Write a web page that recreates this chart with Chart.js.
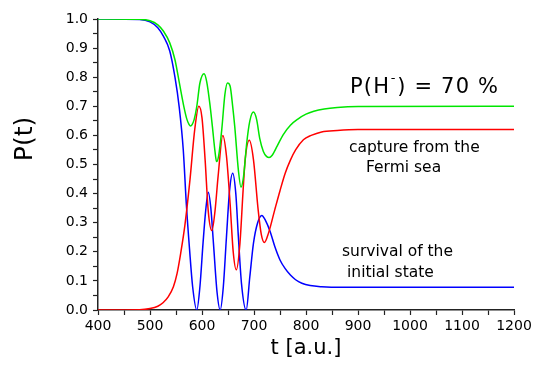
<!DOCTYPE html>
<html>
<head>
<meta charset="utf-8">
<script src="https://cdn.jsdelivr.net/npm/chart.js@4/dist/chart.umd.min.js"></script>
<style>
html,body{margin:0;padding:0;background:#fff;}
#wrap{width:539px;height:365px;position:relative;}
</style>
</head>
<body>
<div id="wrap"><canvas id="c" width="539" height="365"></canvas></div>
<script>
// ---- data ----
const xTicks = [400, 500, 600, 700, 800, 900, 1000, 1100, 1200];
const yTicks = [0.0, 0.1, 0.2, 0.3, 0.4, 0.5, 0.6, 0.7, 0.8, 0.9, 1.0];

const greenT = [400, 480, 500, 515, 526, 538, 548, 557, 565, 571, 575, 578, 581, 585, 590, 596, 604, 609, 615, 620, 625, 628, 632, 638, 644, 649, 654, 659, 663, 670, 675, 680, 686, 692, 699, 705, 711, 718, 724, 729, 735, 745, 756, 770, 785, 800, 815, 835, 860, 900, 1200];
const greenP = [1.0, 0.999, 0.994, 0.98, 0.958, 0.918, 0.86, 0.775, 0.70, 0.655, 0.638, 0.632, 0.637, 0.655, 0.70, 0.78, 0.812, 0.785, 0.71, 0.63, 0.545, 0.51, 0.53, 0.62, 0.74, 0.78, 0.77, 0.70, 0.63, 0.48, 0.422, 0.46, 0.574, 0.65, 0.68, 0.655, 0.59, 0.545, 0.528, 0.524, 0.532, 0.565, 0.602, 0.635, 0.657, 0.673, 0.683, 0.691, 0.696, 0.699, 0.70];

const redT = [400, 480, 500, 515, 525, 535, 545, 552, 559, 567, 577, 586, 594, 600, 606, 612, 619, 625, 631, 640, 647, 654, 660, 666, 673, 679, 683, 691, 699, 708, 714, 720, 728, 740, 750, 760, 770, 780, 795, 810, 830, 860, 900, 1200];
const redP = [0.0, 0.001, 0.005, 0.013, 0.025, 0.045, 0.08, 0.125, 0.195, 0.29, 0.45, 0.62, 0.70, 0.66, 0.516, 0.34, 0.273, 0.34, 0.46, 0.60, 0.53, 0.367, 0.20, 0.138, 0.23, 0.41, 0.516, 0.583, 0.516, 0.344, 0.26, 0.232, 0.265, 0.345, 0.41, 0.47, 0.515, 0.55, 0.585, 0.60, 0.612, 0.617, 0.62, 0.62];

const blueT = [400, 480, 500, 515, 526, 538, 548, 556, 564, 570, 576, 582, 590, 596, 602, 607, 612, 617, 622, 629, 635, 641, 647, 653, 659, 665, 670, 676, 685, 692, 699, 707, 715, 722, 731, 740, 750, 760, 770, 780, 792, 808, 830, 870, 1200];
const blueP = [1.0, 0.998, 0.99, 0.97, 0.94, 0.89, 0.80, 0.70, 0.55, 0.36, 0.21, 0.08, 0.0, 0.08, 0.23, 0.34, 0.405, 0.35, 0.23, 0.06, 0.0, 0.08, 0.25, 0.41, 0.47, 0.40, 0.25, 0.09, 0.0, 0.115, 0.23, 0.30, 0.325, 0.308, 0.27, 0.218, 0.172, 0.142, 0.12, 0.104, 0.092, 0.084, 0.08, 0.078, 0.078];

const seriesLabels = ['total', 'capture from the Fermi sea', 'survival of the initial state'];

function pts(ts, ps) { return ts.map((t, i) => ({x: t, y: ps[i]})); }

const AXIS = '#222';
const TICKFONT = {family: 'DejaVu Sans', size: 14};

const annotations = {
  id: 'annotations',
  afterDraw(chart) {
    const ctx = chart.ctx;
    ctx.save();
    ctx.fillStyle = '#000';
    ctx.textAlign = 'left';
    ctx.textBaseline = 'alphabetic';
    // P(H-) = 70 %
    ctx.letterSpacing = '1.2px';
    ctx.font = '21px "DejaVu Sans"';
    let x = 350;
    ctx.fillText('P(H', x, 93);
    x += ctx.measureText('P(H').width;
    ctx.font = '13px "DejaVu Sans"';
    ctx.fillText('-', x + 0.5, 82);
    x += ctx.measureText('-').width + 1;
    ctx.font = '21px "DejaVu Sans"';
    ctx.fillText(') = 70 %', x, 93);
    ctx.letterSpacing = '0px';
    // labels
    ctx.font = '15.5px "DejaVu Sans"';
    ctx.fillText('capture from the', 349, 152);
    ctx.fillText('Fermi sea', 366, 172);
    ctx.fillText('survival of the', 342, 256);
    ctx.fillText('initial state', 347, 277);
    // y axis title
    ctx.save();
    ctx.translate(25, 139);
    ctx.rotate(-Math.PI / 2);
    ctx.textAlign = 'center';
    ctx.textBaseline = 'middle';
    ctx.font = '25px "DejaVu Sans"';
    ctx.fillText('P(t)', 0, 0);
    ctx.restore();
    ctx.restore();
  }
};

new Chart(document.getElementById('c'), {
  type: 'line',
  data: {
    datasets: [
      {label: seriesLabels[0], data: pts(greenT, greenP), borderColor: '#00e600', borderWidth: 1.5},
      {label: seriesLabels[1], data: pts(redT, redP), borderColor: '#ff0000', borderWidth: 1.5},
      {label: seriesLabels[2], data: pts(blueT, blueP), borderColor: '#0000ff', borderWidth: 1.5}
    ]
  },
  options: {
    responsive: false,
    animation: false,
    devicePixelRatio: 1,
    layout: {padding: {left: 0, top: 19, right: 25, bottom: 0}},
    elements: {point: {radius: 0}, line: {cubicInterpolationMode: 'monotone', fill: false}},
    plugins: {legend: {display: false}, tooltip: {enabled: false}},
    scales: {
      x: {
        type: 'linear', min: xTicks[0], max: xTicks[xTicks.length - 1],
        afterFit: (s) => { s.height = 55; },
        border: {display: true, color: AXIS, width: 1.5},
        grid: {display: true, drawOnChartArea: false, drawTicks: true, tickLength: 5, tickColor: AXIS, tickWidth: 1.2},
        ticks: {
          stepSize: 50, autoSkip: false, maxRotation: 0, color: '#000', font: TICKFONT, padding: 3,
          callback: (v) => xTicks.includes(v) ? String(v) : ''
        },
        title: {display: true, text: 't [a.u.]', color: '#000', font: {family: 'DejaVu Sans', size: 21}, padding: {top: 0, bottom: 4}}
      },
      y: {
        type: 'linear', min: 0, max: 1,
        afterFit: (s) => { s.width = 98; },
        border: {display: true, color: AXIS, width: 1.5},
        grid: {display: true, drawOnChartArea: false, drawTicks: true, tickLength: 5, tickColor: AXIS, tickWidth: 1.2},
        ticks: {
          stepSize: 0.05, autoSkip: false, color: '#000', font: TICKFONT, padding: 5,
          callback: (v) => {
            const k = Math.round(v * 20);
            return k % 2 === 0 ? yTicks[k / 2].toFixed(1) : '';
          }
        }
      }
    }
  },
  plugins: [annotations]
});
</script>
</body>
</html>
